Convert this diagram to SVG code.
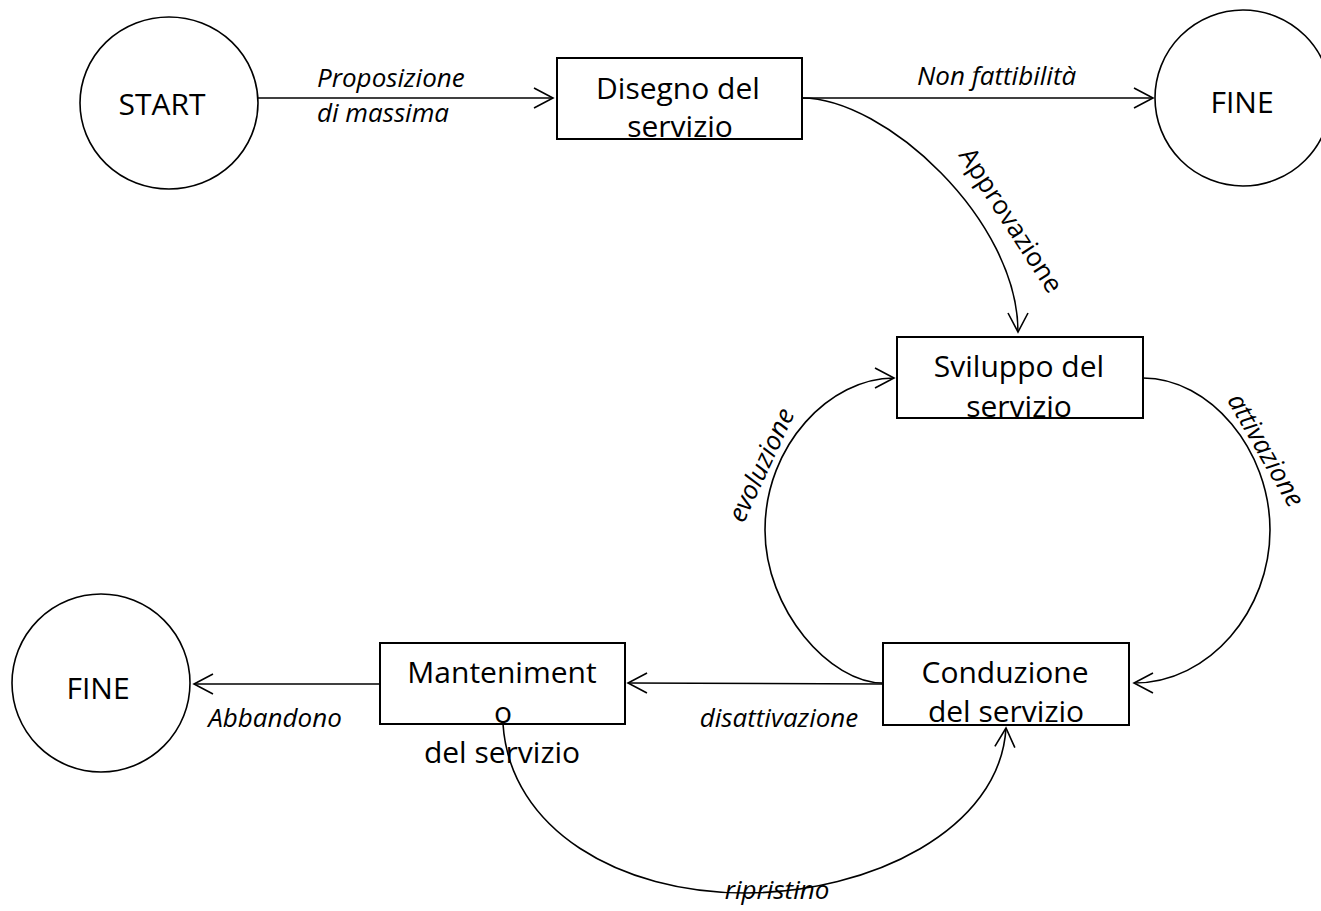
<svg xmlns="http://www.w3.org/2000/svg" width="1321" height="911" viewBox="0 0 1321 911">
  <defs>
    <marker id="arr" markerUnits="userSpaceOnUse" markerWidth="26" markerHeight="26" viewBox="-22 -13 26 26" refX="0" refY="0" orient="auto" overflow="visible">
      <path d="M-19,-10 L0,0 L-19,10" fill="none" stroke="#000" stroke-width="1.6"/>
    </marker>
  </defs>
  <style>
    .node { fill: #fff; stroke: #000; stroke-width: 2; }
    .ell { fill: #fff; stroke: #000; stroke-width: 1.6; }
    .nt { font-family: "Open Sans", "Liberation Sans", sans-serif; font-size: 30px; fill: #000; text-anchor: middle; }
    .lb { font-family: "Open Sans", "Liberation Sans", sans-serif; font-size: 26px; font-style: italic; fill: #000; }
    .lbu { font-family: "Open Sans", "Liberation Sans", sans-serif; font-size: 26px; fill: #000; }
    .edge { fill: none; stroke: #000; stroke-width: 1.6; marker-end: url(#arr); }
  </style>
  <rect width="1321" height="911" fill="#fff"/>

  <g id="connectors">
    <path class="edge" d="M258,98 L553,98"/>
    <path class="edge" d="M802,98 L1153,98"/>
    <path class="edge" d="M802,98 C885,98 1018,220 1018,332"/>
    <path class="edge" d="M1143,378 C1210,378 1270,450 1270,530 C1270,610 1210,683 1134,683"/>
    <path class="edge" d="M883,683 C830,683 765,610 765,530 C765,445 830,378 894,378"/>
    <path class="edge" d="M883,684 L628,683"/>
    <path class="edge" d="M380,684 L194,684"/>
    <path class="edge" d="M503,724 C510,830 620,893 745,893 C870,893 1000,830 1006,728"/>
    <text class="lb" x="317" y="87">Proposizione</text>
    <text class="lb" x="317" y="122">di massima</text>
    <text class="lb" x="917" y="85">Non fattibilità</text>
    <text class="lbu" transform="translate(1011,220) rotate(57)" text-anchor="middle" y="9">Approvazione</text>
    <text class="lb" transform="translate(1266,450) rotate(60)" text-anchor="middle" y="9">attivazione</text>
    <text class="lb" transform="translate(761,465) rotate(-65)" text-anchor="middle" y="9">evoluzione</text>
    <text class="lb" x="779" y="727" text-anchor="middle">disattivazione</text>
    <text class="lb" x="275" y="727" text-anchor="middle">Abbandono</text>
    <text class="lb" x="777" y="899" text-anchor="middle">ripristino</text>
  </g>

  <g id="start">
    <ellipse class="ell" cx="169" cy="103" rx="89" ry="86"/>
    <text class="nt" x="162" y="115">START</text>
  </g>
  <g id="disegno">
    <rect class="node" x="557" y="58" width="245" height="81"/>
    <text class="nt" x="678" y="99">Disegno del</text>
    <text class="nt" x="680" y="137">servizio</text>
  </g>
  <g id="fine1">
    <ellipse class="ell" cx="1243" cy="98" rx="88" ry="88"/>
    <text class="nt" x="1242" y="113">FINE</text>
  </g>
  <g id="sviluppo">
    <rect class="node" x="897" y="337" width="246" height="81"/>
    <text class="nt" x="1019" y="377">Sviluppo del</text>
    <text class="nt" x="1019" y="417">servizio</text>
  </g>
  <g id="conduzione">
    <rect class="node" x="883" y="643" width="246" height="82"/>
    <text class="nt" x="1005" y="683">Conduzione</text>
    <text class="nt" x="1006" y="722">del servizio</text>
  </g>
  <g id="mantenimento">
    <rect class="node" x="380" y="643" width="245" height="81"/>
    <text class="nt" x="502" y="683">Manteniment</text>
    <text class="nt" x="503" y="723">o</text>
    <text class="nt" x="502" y="763">del servizio</text>
  </g>
  <g id="fine2">
    <ellipse class="ell" cx="101" cy="683" rx="89" ry="89"/>
    <text class="nt" x="98" y="699">FINE</text>
  </g>
</svg>
